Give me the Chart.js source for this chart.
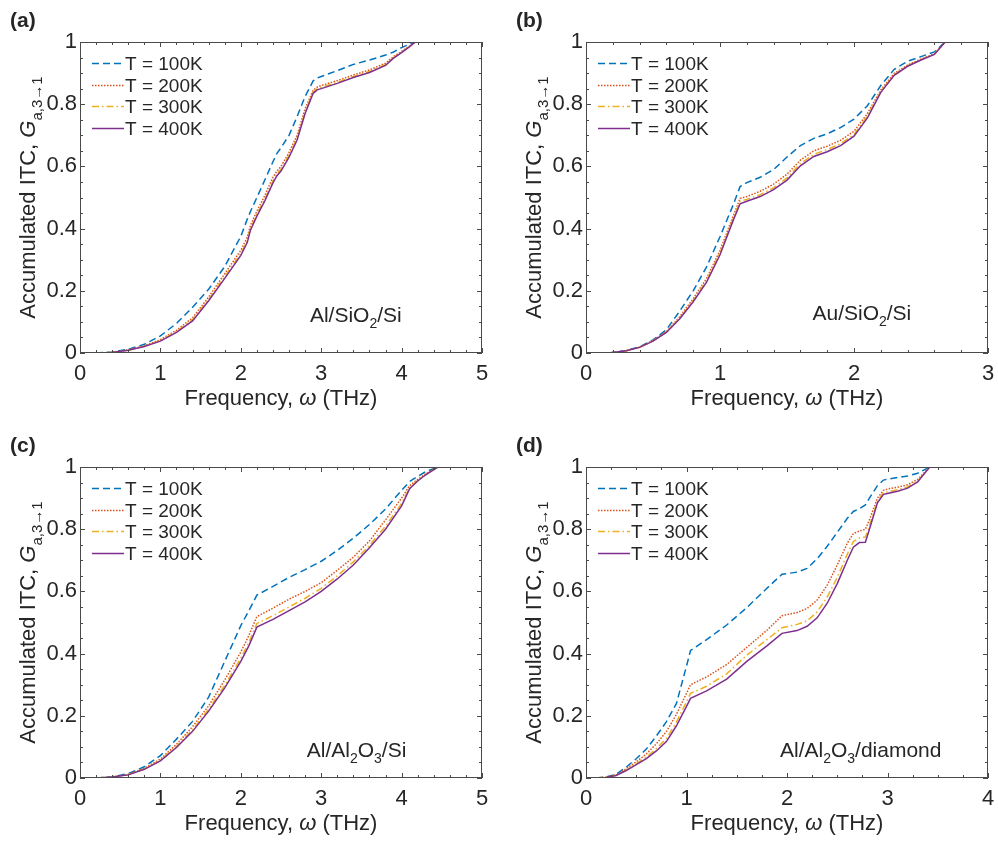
<!DOCTYPE html>
<html>
<head>
<meta charset="utf-8">
<script src="https://cdn.jsdelivr.net/npm/chart.js@4"></script>
<style>
  html, body { margin: 0; padding: 0; background: #fff; overflow: hidden; }
  .panel { position: absolute; width: 492px; height: 418px; }
</style>
</head>
<body>
<div class="panel" style="left:0;top:0"><canvas id="chartA" width="492" height="418"></canvas></div>
<div class="panel" style="left:506px;top:0"><canvas id="chartB" width="492" height="418"></canvas></div>
<div class="panel" style="left:0;top:425px"><canvas id="chartC" width="492" height="418"></canvas></div>
<div class="panel" style="left:506px;top:425px"><canvas id="chartD" width="492" height="418"></canvas></div>
<script>
const temps = ['T = 100K', 'T = 200K', 'T = 300K', 'T = 400K'];
const yTicks = [0, 0.2, 0.4, 0.6, 0.8, 1];

// (a) Al/SiO2/Si
const freqA = [0.2, 0.4, 0.6, 0.8, 1.0, 1.2, 1.4, 1.6, 1.8, 2.0, 2.08, 2.12, 2.2, 2.3, 2.4, 2.45, 2.5, 2.6, 2.7, 2.8, 2.9, 2.95, 3.0, 3.2, 3.4, 3.6, 3.8, 3.9, 4.0, 4.1, 4.17];
const g100A = [0, 0.003, 0.012, 0.028, 0.055, 0.095, 0.147, 0.205, 0.278, 0.375, 0.43, 0.455, 0.50, 0.557, 0.615, 0.642, 0.66, 0.70, 0.76, 0.825, 0.875, 0.884, 0.889, 0.908, 0.928, 0.942, 0.958, 0.968, 0.982, 0.993, 1.0];
const g200A = [0, 0.002, 0.010, 0.023, 0.043, 0.073, 0.113, 0.18, 0.255, 0.33, 0.372, 0.41, 0.456, 0.507, 0.565, 0.585, 0.60, 0.645, 0.70, 0.785, 0.845, 0.855, 0.86, 0.876, 0.894, 0.91, 0.932, 0.953, 0.97, 0.987, 1.0];
const g300A = [0, 0.002, 0.009, 0.022, 0.040, 0.069, 0.107, 0.173, 0.246, 0.32, 0.361, 0.40, 0.446, 0.496, 0.553, 0.576, 0.591, 0.636, 0.69, 0.776, 0.839, 0.849, 0.854, 0.87, 0.889, 0.905, 0.928, 0.95, 0.968, 0.986, 1.0];
const g400A = [0, 0.002, 0.009, 0.021, 0.038, 0.066, 0.103, 0.168, 0.24, 0.314, 0.355, 0.395, 0.44, 0.49, 0.547, 0.57, 0.585, 0.63, 0.685, 0.77, 0.835, 0.846, 0.85, 0.867, 0.886, 0.902, 0.925, 0.948, 0.966, 0.985, 1.0];

// (b) Au/SiO2/Si
const freqB = [0.17, 0.3, 0.4, 0.5, 0.6, 0.7, 0.8, 0.9, 1.0, 1.1, 1.15, 1.2, 1.3, 1.4, 1.5, 1.6, 1.7, 1.8, 1.9, 2.0, 2.1, 2.2, 2.3, 2.4, 2.5, 2.6, 2.68];
const g100B = [0, 0.008, 0.02, 0.042, 0.075, 0.135, 0.20, 0.277, 0.374, 0.478, 0.535, 0.548, 0.565, 0.59, 0.63, 0.667, 0.69, 0.705, 0.725, 0.752, 0.795, 0.86, 0.912, 0.938, 0.953, 0.968, 1.0];
const g200B = [0, 0.007, 0.019, 0.04, 0.069, 0.117, 0.175, 0.24, 0.33, 0.442, 0.497, 0.503, 0.52, 0.543, 0.575, 0.62, 0.65, 0.665, 0.684, 0.713, 0.77, 0.846, 0.899, 0.926, 0.945, 0.962, 1.0];
const g300B = [0, 0.007, 0.018, 0.039, 0.067, 0.113, 0.169, 0.233, 0.322, 0.434, 0.488, 0.494, 0.509, 0.531, 0.563, 0.609, 0.639, 0.654, 0.673, 0.703, 0.762, 0.841, 0.895, 0.924, 0.943, 0.961, 1.0];
const g400B = [0, 0.007, 0.018, 0.038, 0.066, 0.11, 0.165, 0.228, 0.316, 0.428, 0.48, 0.488, 0.503, 0.525, 0.556, 0.602, 0.632, 0.647, 0.667, 0.697, 0.756, 0.838, 0.893, 0.922, 0.942, 0.96, 1.0];

// (c) Al/Al2O3/Si
const freqC = [0.2, 0.4, 0.6, 0.8, 1.0, 1.2, 1.4, 1.6, 1.8, 2.0, 2.1, 2.2, 2.4, 2.6, 2.8, 3.0, 3.2, 3.4, 3.6, 3.8, 4.0, 4.1, 4.2, 4.3, 4.45];
const g100C = [0, 0.004, 0.014, 0.036, 0.072, 0.125, 0.182, 0.26, 0.375, 0.49, 0.538, 0.588, 0.616, 0.645, 0.67, 0.697, 0.732, 0.771, 0.815, 0.865, 0.925, 0.953, 0.97, 0.985, 1.0];
const g200C = [0, 0.003, 0.012, 0.031, 0.061, 0.108, 0.165, 0.232, 0.315, 0.405, 0.458, 0.519, 0.546, 0.575, 0.60, 0.628, 0.668, 0.71, 0.762, 0.83, 0.90, 0.94, 0.96, 0.978, 1.0];
const g300C = [0, 0.003, 0.011, 0.029, 0.057, 0.102, 0.155, 0.221, 0.298, 0.385, 0.436, 0.497, 0.522, 0.55, 0.578, 0.61, 0.65, 0.695, 0.748, 0.81, 0.883, 0.933, 0.957, 0.976, 1.0];
const g400C = [0, 0.003, 0.010, 0.028, 0.055, 0.098, 0.15, 0.215, 0.29, 0.375, 0.425, 0.485, 0.51, 0.538, 0.566, 0.60, 0.64, 0.685, 0.74, 0.80, 0.875, 0.93, 0.955, 0.975, 1.0];

// (d) Al/Al2O3/diamond
const freqD = [0.1, 0.2, 0.3, 0.4, 0.5, 0.6, 0.7, 0.8, 0.9, 1.0, 1.04, 1.2, 1.4, 1.6, 1.8, 1.95, 2.1, 2.2, 2.3, 2.4, 2.5, 2.6, 2.66, 2.72, 2.78, 2.82, 2.9, 2.96, 3.0, 3.1, 3.2, 3.3, 3.42];
const g100D = [0, 0.003, 0.012, 0.035, 0.062, 0.093, 0.135, 0.181, 0.24, 0.36, 0.41, 0.445, 0.492, 0.548, 0.61, 0.655, 0.662, 0.674, 0.705, 0.745, 0.79, 0.835, 0.857, 0.866, 0.878, 0.90, 0.94, 0.958, 0.961, 0.966, 0.971, 0.98, 1.0];
const g200D = [0, 0.003, 0.010, 0.03, 0.052, 0.077, 0.11, 0.149, 0.205, 0.272, 0.30, 0.325, 0.365, 0.42, 0.475, 0.522, 0.532, 0.545, 0.572, 0.62, 0.685, 0.755, 0.786, 0.794, 0.80, 0.83, 0.90, 0.925, 0.929, 0.935, 0.943, 0.96, 1.0];
const g300D = [0, 0.002, 0.009, 0.026, 0.046, 0.067, 0.095, 0.127, 0.18, 0.245, 0.272, 0.295, 0.335, 0.395, 0.445, 0.483, 0.494, 0.505, 0.534, 0.582, 0.645, 0.72, 0.76, 0.772, 0.775, 0.81, 0.89, 0.918, 0.92, 0.927, 0.936, 0.955, 1.0];
const g400D = [0, 0.002, 0.008, 0.024, 0.043, 0.062, 0.087, 0.117, 0.168, 0.23, 0.256, 0.28, 0.318, 0.375, 0.425, 0.465, 0.474, 0.488, 0.515, 0.562, 0.625, 0.70, 0.742, 0.757, 0.758, 0.80, 0.885, 0.912, 0.915, 0.922, 0.932, 0.952, 1.0];

const colors = ['#0072BD', '#D95319', '#EDB120', '#7E2F8E'];
const dashes = [[7, 4], [1.5, 1.5], [7, 3, 1.5, 3], []];
const FONT = '"Liberation Sans", Arial, Helvetica, sans-serif';
const INK = '#262626';

// draw a run of text pieces: '' normal, 'i' italic, 's' subscript
function runsWidth(ctx, runs, size) {
  let w = 0;
  for (const [t, k] of runs) {
    const s = k === 's' ? Math.round(size * 0.68) : size;
    ctx.font = (k === 'i' ? 'italic ' : '') + s + 'px ' + FONT;
    w += ctx.measureText(t).width;
  }
  return w;
}
function drawRuns(ctx, runs, x, y, size) {
  let cx = x;
  for (const [t, k] of runs) {
    const s = k === 's' ? Math.round(size * 0.68) : size;
    ctx.font = (k === 'i' ? 'italic ' : '') + s + 'px ' + FONT;
    ctx.fillText(t, cx, y + (k === 's' ? size * 0.3 : 0));
    cx += ctx.measureText(t).width;
  }
}

const xTitle = [['Frequency, ', ''], ['\u03c9', 'i'], [' (THz)', '']];
const yTitle = [['Accumulated ITC, ', ''], ['G', 'i'], ['a,3\u21921', 's']];

const framePlugin = {
  id: 'frame',
  afterDatasetsDraw(chart, args, opts) {
    const ctx = chart.ctx, a = chart.chartArea;
    const x = chart.scales.x, y = chart.scales.y;
    ctx.save();
    ctx.strokeStyle = '#4a4a4a';
    ctx.lineWidth = 1;
    ctx.setLineDash([]);
    ctx.beginPath();
    const nx = Math.round((x.max - x.min) / opts.xMinor);
    const per = Math.round(1 / opts.xMinor);
    for (let i = 0; i <= nx; i++) {
      const px = Math.round(x.getPixelForValue(x.min + i * opts.xMinor)) + 0.5;
      const len = i % per === 0 ? 5 : 3;
      ctx.moveTo(px, a.bottom); ctx.lineTo(px, a.bottom - len);
      ctx.moveTo(px, a.top); ctx.lineTo(px, a.top + len);
    }
    for (let i = 0; i <= 20; i++) {
      const py = Math.round(y.getPixelForValue(i * 0.05)) + 0.5;
      const len = i % 4 === 0 ? 5 : 3;
      ctx.moveTo(a.left, py); ctx.lineTo(a.left + len, py);
      ctx.moveTo(a.right, py); ctx.lineTo(a.right - len, py);
    }
    ctx.stroke();
    ctx.strokeRect(Math.round(a.left) + 0.5, Math.round(a.top) + 0.5,
      Math.round(a.right - a.left) - 1, Math.round(a.bottom - a.top) - 1);
    ctx.restore();
  },
  afterDraw(chart, args, opts) {
    const ctx = chart.ctx, a = chart.chartArea;
    const x = chart.scales.x, y = chart.scales.y;
    ctx.save();
    ctx.fillStyle = INK;
    ctx.textBaseline = 'alphabetic';
    ctx.textAlign = 'left';

    // panel tag
    ctx.font = 'bold 21px ' + FONT;
    ctx.fillText(opts.tag, a.left - 70, a.top - 15);

    // x title
    const xw = runsWidth(ctx, xTitle, 22);
    drawRuns(ctx, xTitle, (a.left + a.right) / 2 - xw / 2, a.bottom + 52, 22);

    // y title
    ctx.save();
    ctx.translate(a.left - 45, (a.top + a.bottom) / 2);
    ctx.rotate(-Math.PI / 2);
    const yw = runsWidth(ctx, yTitle, 22);
    drawRuns(ctx, yTitle, -yw / 2, 0, 22);
    ctx.restore();

    // material label
    drawRuns(ctx, opts.material, x.getPixelForValue(opts.at[0]), y.getPixelForValue(opts.at[1]), 21);

    // legend
    ctx.font = '19px ' + FONT;
    ctx.textBaseline = 'middle';
    chart.data.datasets.forEach((ds, i) => {
      const ly = Math.round(a.top + 21 + i * 21.7) + 0.5;
      ctx.save();
      ctx.strokeStyle = ds.borderColor;
      ctx.lineWidth = ds.borderWidth;
      ctx.setLineDash(ds.borderDash);
      ctx.beginPath();
      ctx.moveTo(a.left + 12, ly);
      ctx.lineTo(a.left + 44, ly);
      ctx.stroke();
      ctx.restore();
      ctx.fillText(ds.label, a.left + 45, ly + 1);
    });
    ctx.restore();
  }
};

function makeChart(id, freq, series, xMax, xMinor, tag, material, at) {
  new Chart(document.getElementById(id), {
    type: 'line',
    data: {
      datasets: series.map((vals, i) => ({
        label: temps[i],
        data: freq.map((f, j) => ({ x: f, y: vals[j] })),
        borderColor: colors[i],
        borderDash: dashes[i],
        borderWidth: 1.5,
        pointRadius: 0,
        tension: 0,
        fill: false,
        order: 3 - i
      }))
    },
    options: {
      responsive: false,
      animation: false,
      layout: { padding: { top: 42, right: 10, left: 0, bottom: 0 } },
      plugins: {
        legend: { display: false },
        tooltip: { enabled: false },
        frame: { tag: tag, material: material, at: at, xMinor: xMinor }
      },
      scales: {
        x: {
          type: 'linear', min: 0, max: xMax,
          ticks: { stepSize: 1, padding: 8, maxRotation: 0, color: INK, font: { family: FONT, size: 22 } },
          grid: { display: false, drawTicks: false },
          border: { display: false },
          afterFit(s) { s.height = 65; s.paddingLeft = 0; s.paddingRight = 0; }
        },
        y: {
          min: 0, max: 1,
          afterBuildTicks(s) { s.ticks = yTicks.map(v => ({ value: v })); },
          ticks: {
            padding: 3, color: INK, font: { family: FONT, size: 22 },
            callback: v => String(Math.round(v * 10) / 10)
          },
          grid: { display: false, drawTicks: false },
          border: { display: false },
          afterFit(s) { s.width = 80; s.paddingTop = 0; s.paddingBottom = 0; }
        }
      }
    },
    plugins: [framePlugin]
  });
}

makeChart('chartA', freqA, [g100A, g200A, g300A, g400A], 5, 0.2, '(a)',
  [['Al/SiO', ''], ['2', 's'], ['/Si', '']], [2.86, 0.1]);
makeChart('chartB', freqB, [g100B, g200B, g300B, g400B], 3, 0.2, '(b)',
  [['Au/SiO', ''], ['2', 's'], ['/Si', '']], [1.69, 0.106]);
makeChart('chartC', freqC, [g100C, g200C, g300C, g400C], 5, 0.2, '(c)',
  [['Al/Al', ''], ['2', 's'], ['O', ''], ['3', 's'], ['/Si', '']], [2.82, 0.068]);
makeChart('chartD', freqD, [g100D, g200D, g300D, g400D], 4, 0.25, '(d)',
  [['Al/Al', ''], ['2', 's'], ['O', ''], ['3', 's'], ['/diamond', '']], [1.93, 0.068]);
</script>
</body>
</html>
